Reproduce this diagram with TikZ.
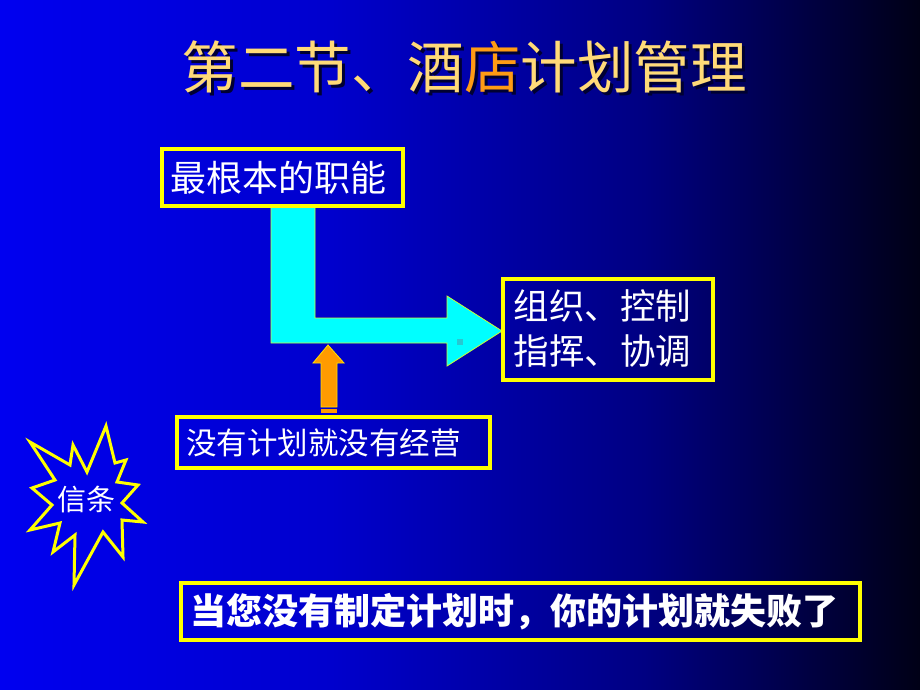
\documentclass[tikz,border=0pt]{standalone}
\usepackage{fontspec}
\newfontfamily\cjk{Noto Sans CJK SC}
\definecolor{bgA}{RGB}{0,0,240}
\definecolor{bgB}{RGB}{0,0,205}
\definecolor{bgC}{RGB}{0,0,130}
\definecolor{bgD}{RGB}{0,0,22}
\definecolor{boxyellow}{RGB}{255,255,0}
\definecolor{titlec}{RGB}{255,218,120}
\definecolor{titleo}{RGB}{255,155,20}
\definecolor{shadowc}{RGB}{0,0,50}
\definecolor{cyanfill}{RGB}{0,255,255}
\definecolor{orangefill}{RGB}{255,155,0}
\definecolor{speck}{RGB}{40,200,210}
\pgfdeclarehorizontalshading{bgshade}{100bp}{color(0bp)=(bgA); color(25bp)=(bgA); color(43bp)=(bgB); color(60bp)=(bgC); color(75bp)=(bgD); color(100bp)=(bgD)}
\tikzset{
  box/.style={draw=boxyellow, line width=4pt, inner sep=0pt},
  txt/.style={text=white, inner sep=0pt, font=\cjk\fontsize{36}{45}\selectfont},
  blockarrow/.style={fill=cyanfill, draw=boxyellow!80!cyanfill, line width=0.8pt},
  orangearrow/.style={fill=orangefill, draw=boxyellow!70!orangefill, line width=0.8pt}
}
\newcommand\titletext{第二节、酒\textcolor{titleo}{店}计划管理}
\begin{document}
\begin{tikzpicture}[x=1pt,y=-1pt]
\useasboundingbox (0,0) rectangle (920,690);
\fill[shading=bgshade] (0,0) rectangle (920,690);
% title with drop shadow (single text node)
\node (title) [text=titlec, inner sep=0pt, font=\cjk\fontsize{56.5}{60}\selectfont] at (464,68)
  {\rlap{\hspace{3pt}\raisebox{-3pt}{\color{shadowc}第二节、酒店计划管理}}\titletext};
% cyan L arrow
\draw[blockarrow] (271,206) -- (315,206) -- (315,318) -- (447,318) -- (447,296) -- (502,331) -- (447,366) -- (447,343) -- (271,343) -- cycle;
\fill[speck] (457,339) rectangle (463,345);
% orange arrow
\draw[orangearrow] (328,345) -- (344,363) -- (337,363) -- (337,407) -- (321,407) -- (321,363) -- (313,363) -- cycle;
\fill[orangefill] (321,409) rectangle (337,413);
\fill[orangefill] (321,415) rectangle (337,418);
% boxes
\node[box, minimum width=241pt, minimum height=57pt] (b1) at (282.5,177.5) {};
\node[txt, anchor=west] at ([xshift=10pt]b1.west) {最根本的职能};
\node[box, minimum width=210pt, minimum height=101pt] (b2) at (607.5,329) {};
\node[txt, anchor=west, align=left, font=\cjk\fontsize{35.5}{45}\selectfont] at ([xshift=13pt]b2.west) {组织、控制\\指挥、协调};
\node[box, minimum width=313pt, minimum height=51pt] (b3) at (333.5,442.5) {};
\node[txt, anchor=west, font=\cjk\fontsize{30.5}{36}\selectfont] at ([xshift=11pt]b3.west) {没有计划就没有经营};
\node[box, minimum width=679pt, minimum height=57pt] (b4) at (520.5,611.5) {};
\node[txt, anchor=west, font=\cjk\bfseries\fontsize{36}{42}\selectfont] at ([xshift=11pt]b4.west) {当您没有制定计划时，你的计划就失败了};
% starburst
\draw[boxyellow, line width=3pt, line join=miter, miter limit=20] (106,426) -- (115,463) -- (126,460) -- (117,482) -- (138,485) -- (122,503) -- (143,522) -- (122,520) -- (123,557) -- (103,532) -- (74,585) -- (75,535) -- (53,552) -- (60,523) -- (30,530) -- (52,505) -- (32,488) -- (55,480) -- (30,442) -- (70,465) -- (73,445) -- (87,472) -- cycle;
\node[txt, font=\cjk\fontsize{29}{34}\selectfont] (star) at (86,499) {信条};
\end{tikzpicture}
\end{document}
